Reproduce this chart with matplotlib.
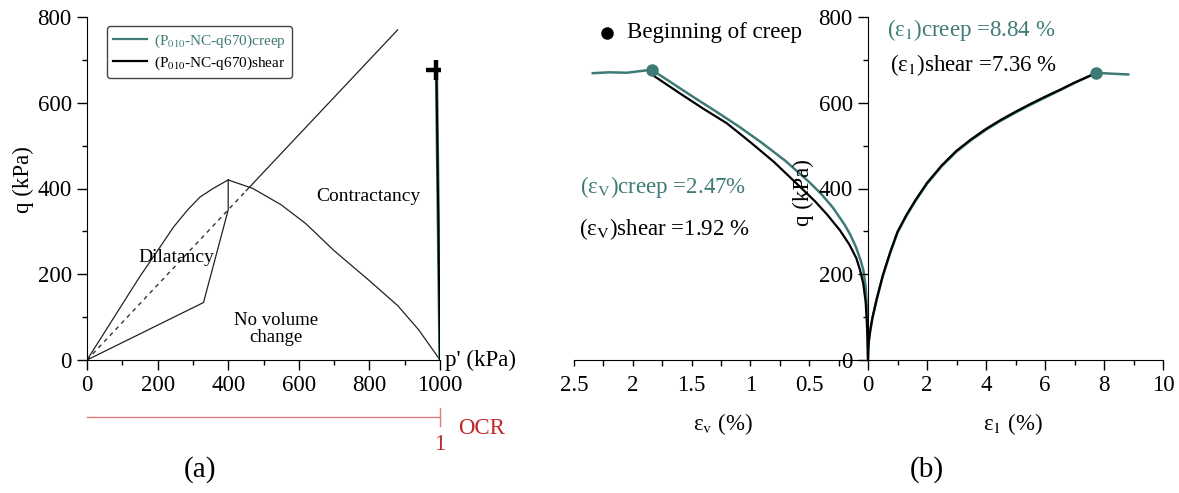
from matplotlib import pyplot as plt
from matplotlib.lines import Line2D
import matplotlib.transforms as mtransforms

plt.rcParams['font.family'] = 'serif'
plt.rcParams['font.serif'] = ['Liberation Serif', 'DejaVu Serif']
plt.rcParams['mathtext.fontset'] = 'stix'
FONT_SIZE = 16.5
TEAL = '#3f7b76'

## DATA ##
# (a) stress plane p'-q
csl_p = [0, 451, 880]
csl_q = [0, 395, 770]
dil_p = [0, 60, 150, 200, 245, 285, 320, 357, 400]
dil_q = [0, 78, 195, 255, 310, 350, 380, 400, 420]
inner_p = [400, 400, 330, 0]
inner_q = [420, 350, 134, 0]
con_p = [400, 470, 550, 620, 700, 800, 880, 940, 1000]
con_q = [420, 400, 362, 318, 255, 185, 127, 70, 0]
path_p = [1000, 990]
path_q = [0, 670]
peak_p, peak_q = 990, 677

# (b) volumetric strain
ev_creep = [2.34, 2.2, 2.05, 1.84, 1.7, 1.5, 1.3, 1.1, 0.9, 0.7, 0.5, 0.4, 0.3, 0.2,
            0.15, 0.1, 0.06, 0.04, 0.02, 0.01, 0.004, 0]
q_ev_creep = [669, 671, 670, 677, 652, 616, 581, 545, 506, 464, 415, 388, 356, 316,
              292, 262, 230, 210, 170, 125, 70, 0]
ev_shear = [1.85, 1.6, 1.4, 1.2, 1.0, 0.8, 0.578, 0.45, 0.35, 0.24, 0.16, 0.1,
            0.068, 0.04, 0.02, 0.011, 0.004, 0]
q_ev_shear = [668, 622, 586, 552, 508, 462, 404, 370, 340, 303, 270, 238,
              210, 178, 135, 93, 50, 0]
# (b) axial strain
e1_creep = [0, 0.01, 0.03, 0.07, 0.15, 0.3, 0.5, 0.75, 1.0, 1.3, 1.6, 2.0, 2.5, 3, 3.5,
            4, 4.5, 5, 5.5, 6, 6.5, 7, 7.4, 7.73, 8.2, 8.82]
q_e1_creep = [0, 25, 45, 65, 97, 142, 195, 249, 297, 336, 370, 411, 452, 486, 513,
              537, 558, 577, 595, 612, 629, 646, 659, 670, 668, 666]
e1_shear = [0, 0.01, 0.03, 0.07, 0.15, 0.3, 0.5, 0.75, 1.0, 1.3, 1.6, 2.0, 2.5, 3, 3.5,
            4, 4.5, 5, 5.5, 6, 6.5, 7, 7.6]
q_e1_shear = [0, 26, 46, 67, 99, 144, 197, 251, 299, 338, 372, 413, 454, 488, 515,
              539, 560, 579, 597, 614, 630, 647, 665]
creep_start_ev, creep_start_e1 = (1.84, 677), (7.73, 670)

fig = plt.figure(figsize=(11.79, 4.93), dpi=100)
W, H = 1179, 493


def axes_px(x0, x1, y_top, y_bot):
    return fig.add_axes([x0 / W, 1 - y_bot / H, (x1 - x0) / W, (y_bot - y_top) / H])


def style(ax):
    for s in ['top', 'right']:
        ax.spines[s].set_visible(False)
    ax.tick_params(which='major', direction='out', length=7, width=1, labelsize=FONT_SIZE, pad=4)
    ax.tick_params(which='minor', direction='out', length=3.5, width=1)


## (a) ##
ax = axes_px(87, 440, 17, 360)
style(ax)
ax.plot(csl_p[:2], csl_q[:2], color='#333333', lw=1, ls=(0, (3, 3)))
ax.plot(csl_p[1:], csl_q[1:], color='#222222', lw=0.9)
ax.plot(dil_p, dil_q, color='#222222', lw=0.9)
ax.plot(inner_p, inner_q, color='#222222', lw=0.9)
ax.plot(con_p, con_q, color='#222222', lw=0.9)
ax.plot(path_p, path_q, color=TEAL, lw=2.4)
ax.plot(path_p, path_q, color='black', lw=1.4)
ax.plot([peak_p], [peak_q], marker='+', color='black', ms=14, mew=3.2)
ax.set_xlim(0, 1000)
ax.set_ylim(0, 800)
ax.set_xticks([0, 200, 400, 600, 800, 1000])
ax.set_xticks([100, 300, 500, 700, 900], minor=True)
ax.set_yticks([0, 200, 400, 600, 800])
ax.set_yticks([100, 300, 500, 700], minor=True)
ax.set_ylabel('q (kPa)', fontsize=FONT_SIZE)
ax.yaxis.set_label_coords(-0.15, 0.525)
ax.text(253, 238, 'Dilatancy', fontsize=14, ha='center', va='center')
ax.text(796, 381, 'Contractancy', fontsize=14, ha='center', va='center')
ax.text(536, 72, 'No volume\nchange', fontsize=13.5, ha='center', va='center', linespacing=1.0)
ax.text(1013, 0, "p' (kPa)", fontsize=FONT_SIZE, ha='left', va='center')

# OCR scale under axis
trans = mtransforms.blended_transform_factory(ax.transData, ax.transAxes)
ax.plot([0, 1000], [-0.166, -0.166], color='#e07b7b', lw=1, transform=trans, clip_on=False)
ax.plot([1000, 1000], [-0.140, -0.192], color='#e07b7b', lw=1, transform=trans, clip_on=False)
ax.text(1000, -0.245, '1', color='#c0282d', fontsize=FONT_SIZE, ha='center', va='center', transform=trans)
ax.text(1050, -0.2, 'OCR', color='#c0282d', fontsize=FONT_SIZE, ha='left', va='center', transform=trans)

handles = [Line2D([], [], color=TEAL, lw=1.6), Line2D([], [], color='black', lw=1.6)]
leg = ax.legend(handles, ['(P$_{010}$-NC-q670)creep', '(P$_{010}$-NC-q670)shear'],
                loc='upper left', bbox_to_anchor=(0.035, 0.995), fontsize=11,
                labelcolor=[TEAL, 'black'], frameon=True, fancybox=True,
                edgecolor='#444444', framealpha=1, handlelength=2.2,
                labelspacing=0.3, borderpad=0.4, handletextpad=0.5)
leg.get_frame().set_linewidth(1)

## (b) left: volumetric strain ##
axl = axes_px(574, 868, 17, 360)
for s in ['top', 'right', 'left']:
    axl.spines[s].set_visible(False)
axl.tick_params(left=False, labelleft=False)
axl.tick_params(which='both', direction='out', length=4, width=1, labelsize=FONT_SIZE, pad=7)
axl.plot(ev_creep, q_ev_creep, color=TEAL, lw=1.8)
axl.plot(ev_shear, q_ev_shear, color='black', lw=1.6)
axl.plot([creep_start_ev[0]], [creep_start_ev[1]], 'o', color=TEAL, ms=8, zorder=5)
axl.set_xlim(2.5, 0)
axl.set_ylim(0, 800)
axl.set_xticks([2.5, 2, 1.5, 1, 0.5])
axl.set_xticklabels(['2.5', '2', '1.5', '1', '0.5'])
axl.set_xticks([2.25, 1.75, 1.25, 0.75, 0.25], minor=True)
axl.set_xlabel('ε$_{\\rm v}$ (%)', fontsize=FONT_SIZE)
axl.xaxis.set_label_coords(0.507, -0.15)
axl.text(2.45, 404, '(ε$_{\\rm V}$)creep =2.47%', color=TEAL, fontsize=FONT_SIZE, ha='left', va='center')
axl.text(2.457, 306, '(ε$_{\\rm V}$)shear =1.92 %', color='black', fontsize=FONT_SIZE, ha='left', va='center')
axl.plot([2.22], [763], 'o', color='black', ms=8, clip_on=False)
axl.text(2.05, 763, 'Beginning of creep', fontsize=FONT_SIZE, ha='left', va='center')

## (b) right: axial strain ##
axr = axes_px(868, 1163, 17, 360)
style(axr)
axr.patch.set_alpha(0)
axr.plot(e1_creep, q_e1_creep, color=TEAL, lw=1.8)
axr.plot(e1_shear, q_e1_shear, color='black', lw=1.6)
axr.plot([creep_start_e1[0]], [creep_start_e1[1]], 'o', color=TEAL, ms=8, zorder=5)
axr.set_xlim(0, 10)
axr.set_ylim(0, 800)
axr.set_xticks([0, 2, 4, 6, 8, 10])
axr.set_xticks([1, 3, 5, 7, 9], minor=True)
axr.set_yticks([0, 200, 400, 600, 800])
axr.set_yticks([100, 300, 500, 700], minor=True)
axr.set_xlabel('ε$_{1}$ (%)', fontsize=FONT_SIZE)
axr.xaxis.set_label_coords(0.49, -0.15)
axr.set_ylabel('q (kPa)', fontsize=FONT_SIZE)
axr.yaxis.set_label_coords(-0.183, 0.487)
axr.text(0.64, 770, '(ε$_{1}$)creep =8.84 %', color=TEAL, fontsize=FONT_SIZE, ha='left', va='center')
axr.text(0.75, 688, '(ε$_{1}$)shear =7.36 %', color='black', fontsize=FONT_SIZE, ha='left', va='center')

fig.text(200 / W, 1 - 470 / H, '(a)', fontsize=21, ha='center', va='center')
fig.text(927 / W, 1 - 470 / H, '(b)', fontsize=21, ha='center', va='center')

plt.savefig('out.png', dpi=100)
